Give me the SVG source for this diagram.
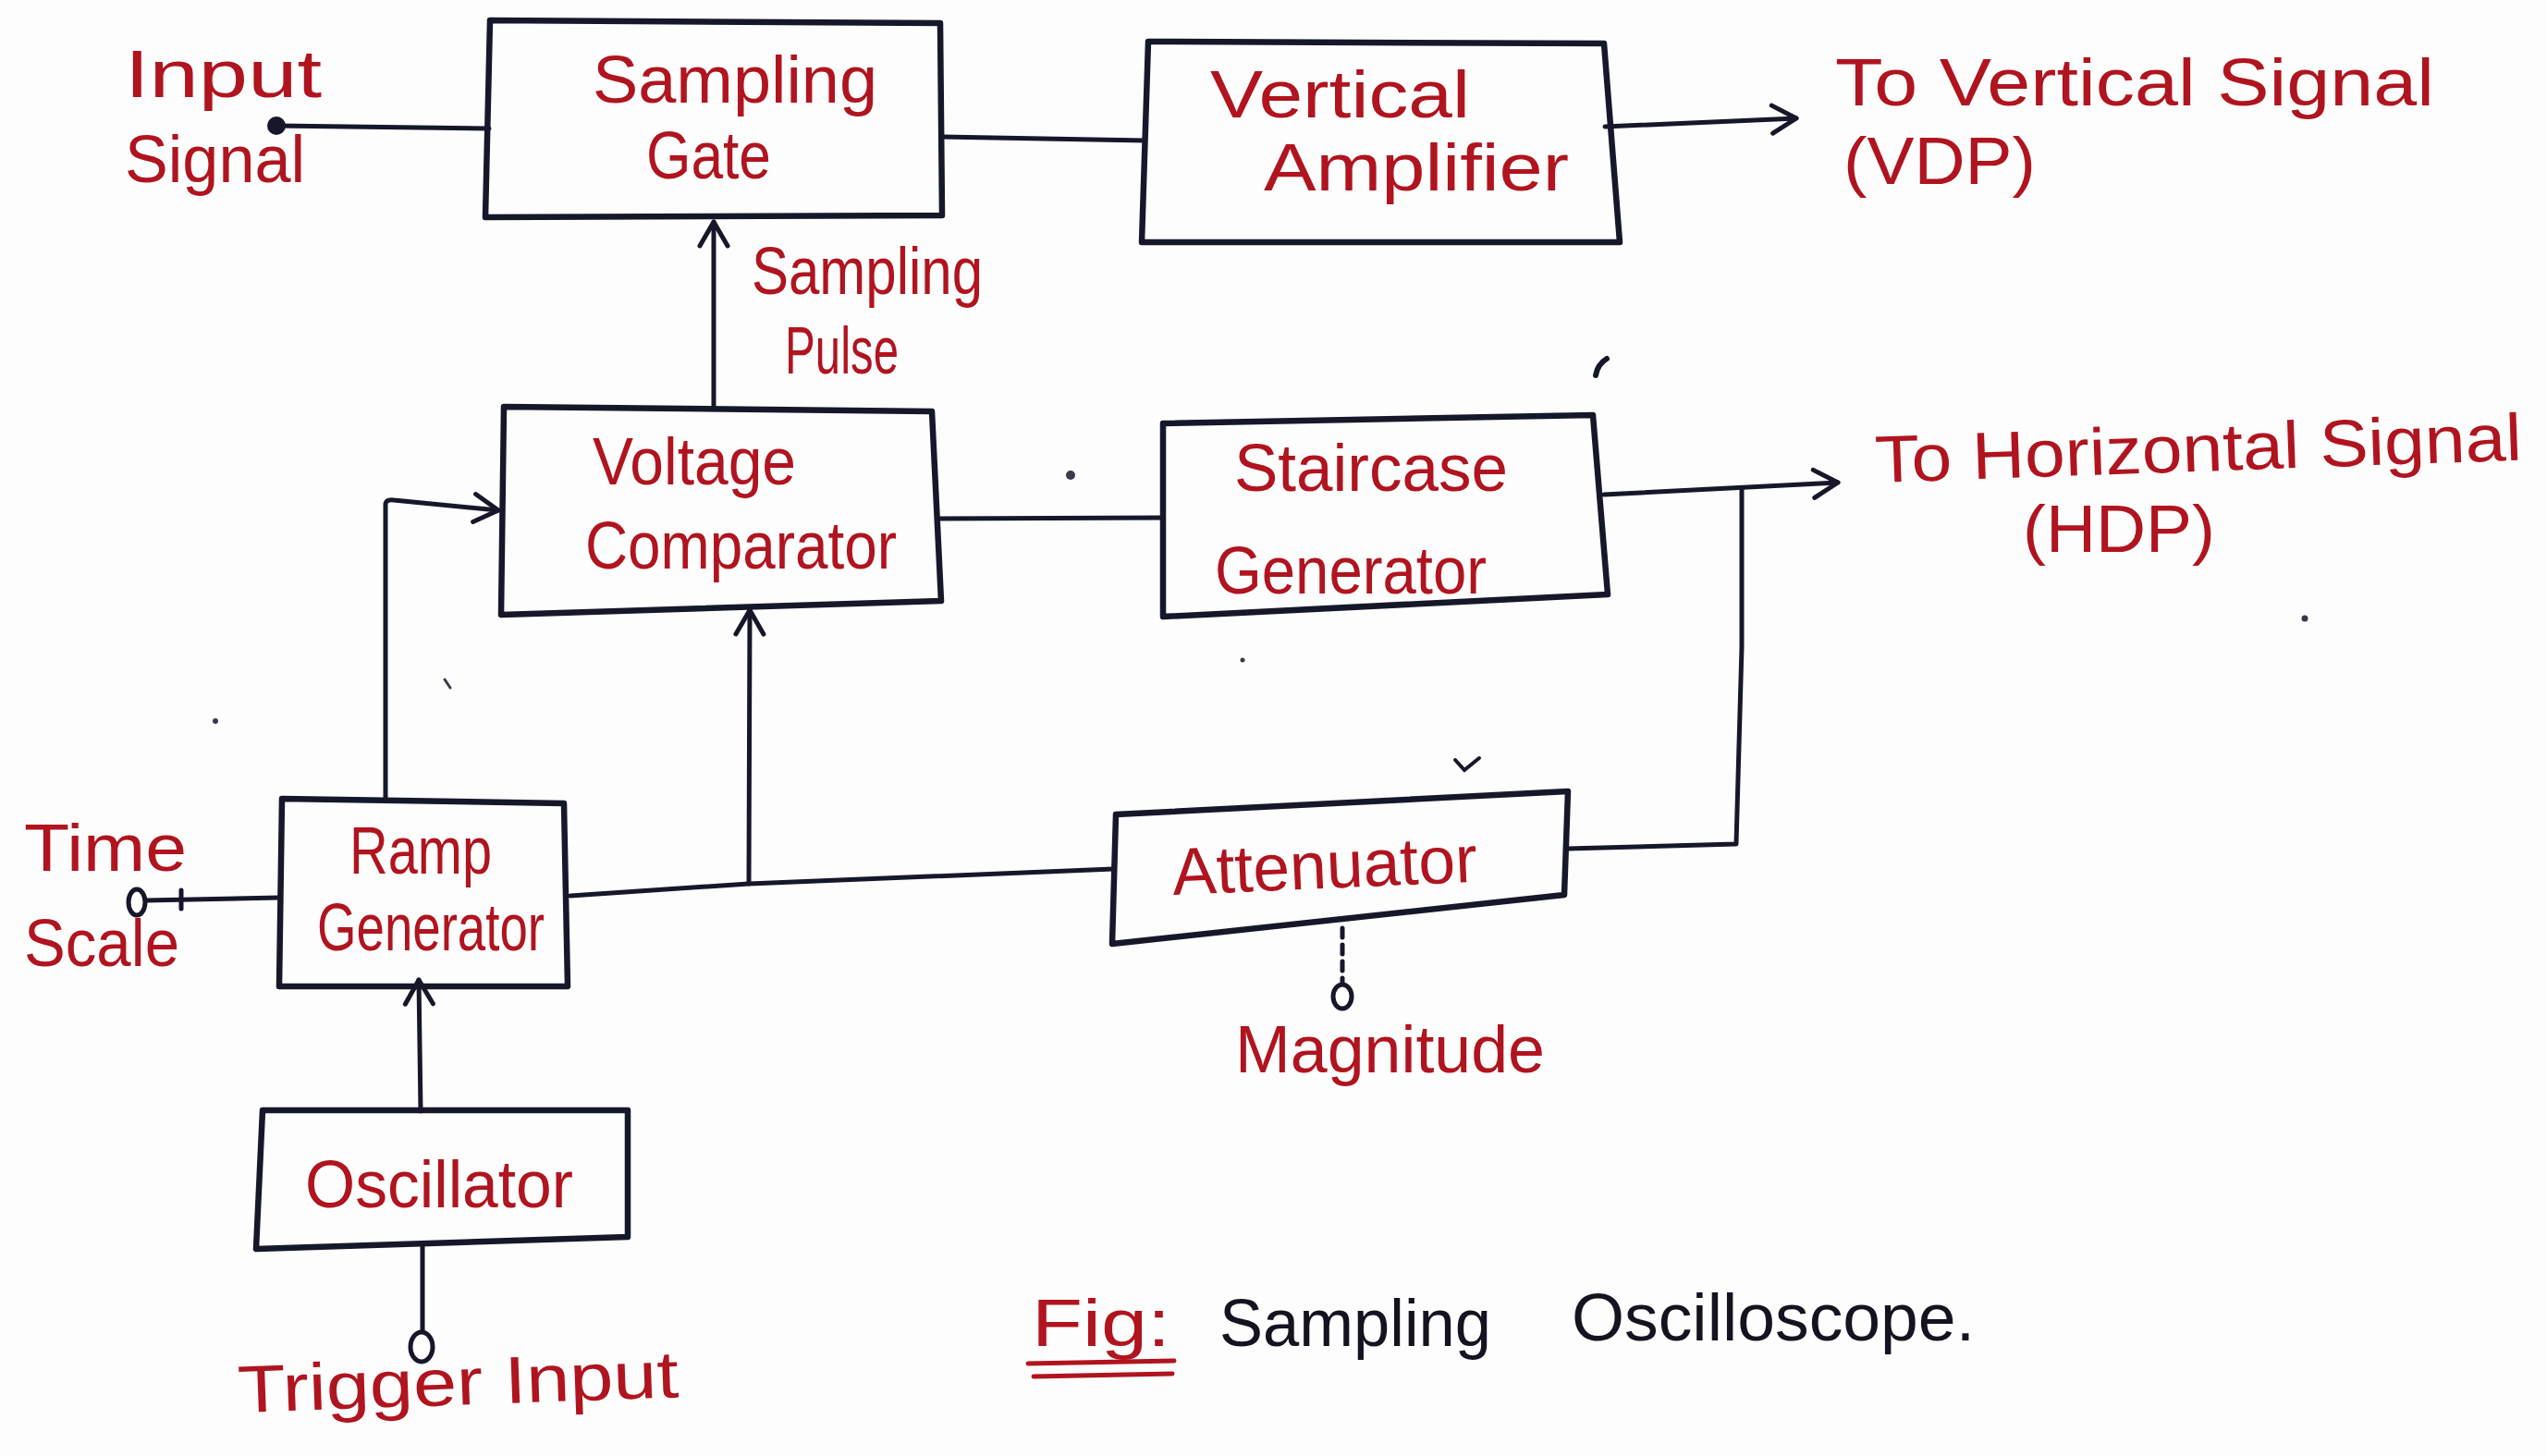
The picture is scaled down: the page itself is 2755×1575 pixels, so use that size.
<svg xmlns="http://www.w3.org/2000/svg" width="2755" height="1575" viewBox="0 0 2755 1575">
  <style>
    .box { fill: none; stroke: #16182a; stroke-width: 6.5; stroke-linejoin: round; stroke-linecap: round; }
    .wire { fill: none; stroke: #16182a; stroke-width: 5; stroke-linejoin: round; stroke-linecap: round; }
    .lbl { font-family: "Liberation Sans", Arial, sans-serif; fill: #b0141f; font-size: 72px; }
    .cap { font-family: "Liberation Sans", Arial, sans-serif; fill: #141420; font-size: 72px; }
    .term { fill: #ffffff; stroke: #16182a; stroke-width: 5; }
    .speck { fill: #3a3a48; }
  </style>
  <defs>
    <marker id="arrow" markerUnits="userSpaceOnUse" viewBox="0 0 32 36" refX="29" refY="18" markerWidth="32" markerHeight="36" orient="auto">
      <path d="M3,3 L29,18 L3,33" fill="none" stroke="#16182a" stroke-width="5" stroke-linecap="round" stroke-linejoin="round"/>
    </marker>
  </defs>

  <rect x="0" y="0" width="2755" height="1575" fill="#fdfdfd"/>

  <!-- Sampling gate -->
  <g id="sampling-gate">
    <path class="box" d="M530,22 L1017,25 L1019,233 L525,235 Z"/>
    <text class="lbl" x="641" y="111" textLength="308" lengthAdjust="spacingAndGlyphs">Sampling</text>
    <text class="lbl" x="699" y="193" textLength="135" lengthAdjust="spacingAndGlyphs">Gate</text>
  </g>

  <!-- Vertical amplifier -->
  <g id="vertical-amplifier">
    <path class="box" d="M1242,45 L1735,47 L1752,262 L1235,262 Z"/>
    <text class="lbl" x="1309" y="127" textLength="281" lengthAdjust="spacingAndGlyphs">Vertical</text>
    <text class="lbl" x="1367" y="206" textLength="330" lengthAdjust="spacingAndGlyphs">Amplifier</text>
  </g>

  <!-- Voltage comparator -->
  <g id="voltage-comparator">
    <path class="box" d="M545,440 L1008,445 L1018,650 L542,665 Z"/>
    <text class="lbl" x="641" y="524" font-size="66" textLength="220" lengthAdjust="spacingAndGlyphs">Voltage</text>
    <text class="lbl" x="633" y="615" font-size="66" textLength="337" lengthAdjust="spacingAndGlyphs">Comparator</text>
  </g>

  <!-- Staircase generator -->
  <g id="staircase-generator">
    <path class="box" d="M1258,458 L1723,449 L1739,643 L1258,667 Z"/>
    <text class="lbl" x="1335" y="531" textLength="296" lengthAdjust="spacingAndGlyphs">Staircase</text>
    <text class="lbl" x="1314" y="642" font-size="66" textLength="294" lengthAdjust="spacingAndGlyphs">Generator</text>
  </g>

  <!-- Ramp generator -->
  <g id="ramp-generator">
    <path class="box" d="M305,864 L610,869 L614,1067 L302,1067 Z"/>
    <text class="lbl" x="378" y="945" font-size="60" textLength="154" lengthAdjust="spacingAndGlyphs">Ramp</text>
    <text class="lbl" x="343" y="1028" font-size="60" textLength="246" lengthAdjust="spacingAndGlyphs">Generator</text>
  </g>

  <!-- Attenuator -->
  <g id="attenuator">
    <path class="box" d="M1207,881 L1696,856 L1692,968 L1203,1021 Z"/>
    <text class="lbl" x="1269" y="968" transform="rotate(-2.5 1269 968)" textLength="330" lengthAdjust="spacingAndGlyphs">Attenuator</text>
  </g>

  <!-- Oscillator -->
  <g id="oscillator">
    <path class="box" d="M284,1201 L679,1201 L679,1338 L277,1351 Z"/>
    <text class="lbl" x="330" y="1306" font-size="70" textLength="290" lengthAdjust="spacingAndGlyphs">Oscillator</text>
  </g>

  <!-- Signal paths between blocks -->
  <g id="connectors">
    <circle cx="299" cy="136" r="10" fill="#16182a"/>
    <path class="wire" d="M299,136 L529,139"/>
    <path class="wire" d="M1019,148 L1238,152"/>
    <path class="wire" d="M1736,137 L1943,128" marker-end="url(#arrow)"/>
    <path class="wire" d="M772,442 L772,240" marker-end="url(#arrow)"/>
    <path class="wire" d="M1017,561 L1258,560"/>
    <path class="wire" d="M1735,535 L1988,522" marker-end="url(#arrow)"/>
    <path class="wire" d="M1884,528 L1884,700 L1878,913 L1696,918"/>
    <path class="wire" d="M1204,940 L810,956 L617,969"/>
    <path class="wire" d="M810,956 L811,660" marker-end="url(#arrow)"/>
    <path class="wire" d="M417,864 L417,545 Q418,540 426,541 L539,552" marker-end="url(#arrow)"/>
    <path class="wire" d="M455,1202 L453,1060" marker-end="url(#arrow)"/>
    <path class="wire" d="M457,1347 L457,1441"/>
    <ellipse class="term" cx="456" cy="1457" rx="12" ry="16"/>
    <path class="wire" d="M158,974 L302,971"/>
    <path class="wire" d="M196,963 L196,983" stroke-width="4"/>
    <ellipse class="term" cx="148" cy="976" rx="9" ry="14"/>
    <path class="wire" d="M1452,1004 L1452,1062" stroke-dasharray="10 8"/>
    <ellipse class="term" cx="1452" cy="1078" rx="10" ry="13"/>
  </g>

  <!-- Terminal and output labels -->
  <g id="labels">
    <text class="lbl" x="135" y="105" textLength="213" lengthAdjust="spacingAndGlyphs">Input</text>
    <text class="lbl" x="135" y="197" textLength="195" lengthAdjust="spacingAndGlyphs">Signal</text>
    <text class="lbl" x="813" y="318" font-size="52" textLength="250" lengthAdjust="spacingAndGlyphs">Sampling</text>
    <text class="lbl" x="849" y="404" font-size="52" textLength="123" lengthAdjust="spacingAndGlyphs">Pulse</text>
    <text class="lbl" x="1985" y="114" textLength="648" lengthAdjust="spacingAndGlyphs">To Vertical Signal</text>
    <text class="lbl" x="1994" y="199" font-size="76" textLength="208" lengthAdjust="spacingAndGlyphs">(VDP)</text>
    <text class="lbl" x="2029" y="522" transform="rotate(-2 2029 522)" textLength="700" lengthAdjust="spacingAndGlyphs">To Horizontal Signal</text>
    <text class="lbl" x="2188" y="597" font-size="75" textLength="208" lengthAdjust="spacingAndGlyphs">(HDP)</text>
    <text class="lbl" x="26" y="942" textLength="176" lengthAdjust="spacingAndGlyphs">Time</text>
    <text class="lbl" x="26" y="1045" font-size="67" textLength="168" lengthAdjust="spacingAndGlyphs">Scale</text>
    <text class="lbl" x="1336" y="1160" textLength="335" lengthAdjust="spacingAndGlyphs">Magnitude</text>
    <text class="lbl" x="258" y="1528" font-size="76" transform="rotate(-2 258 1528)" textLength="477" lengthAdjust="spacingAndGlyphs">Trigger Input</text>
  </g>

  <!-- Figure caption -->
  <g id="caption">
    <text class="lbl" x="1116" y="1456" font-size="80" textLength="150" lengthAdjust="spacingAndGlyphs">Fig:</text>
    <path d="M1112,1475 L1270,1472 M1118,1489 L1268,1486" fill="none" stroke="#b0141f" stroke-width="5" stroke-linecap="round"/>
    <text class="cap" x="1319" y="1456" textLength="294" lengthAdjust="spacingAndGlyphs">Sampling</text>
    <text class="cap" x="1700" y="1450" textLength="436" lengthAdjust="spacingAndGlyphs">Oscilloscope.</text>
  </g>

  <!-- Stray pen marks on the page -->
  <g id="specks">
    <circle class="speck" cx="1158" cy="514" r="5"/>
    <path d="M1726,406 Q1728,394 1738,388" fill="none" stroke="#16182a" stroke-width="6" stroke-linecap="round"/>
    <path d="M1574,822 L1584,833 L1600,820" fill="none" stroke="#16182a" stroke-width="4" stroke-linecap="round"/>
    <circle class="speck" cx="2493" cy="669" r="3.5"/>
    <circle class="speck" cx="233" cy="780" r="3"/>
    <path d="M481,735 L487,744" stroke="#3a3a48" stroke-width="3" stroke-linecap="round"/>
    <circle class="speck" cx="1344" cy="714" r="2.5"/>
  </g>
</svg>
